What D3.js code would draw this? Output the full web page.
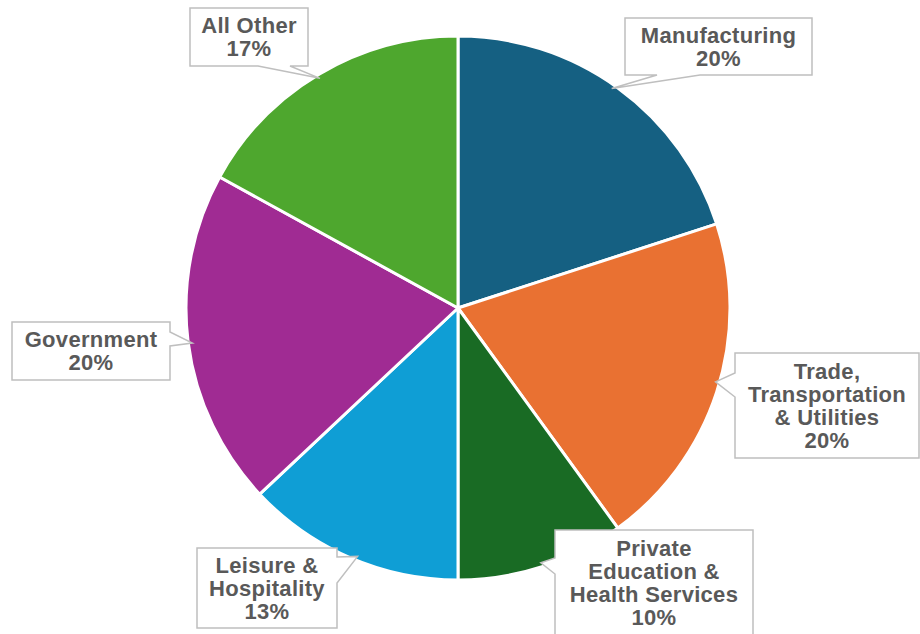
<!DOCTYPE html>
<html>
<head>
<meta charset="utf-8">
<script src="https://cdn.jsdelivr.net/npm/d3@7"></script>
<style>
  html, body { margin: 0; padding: 0; background: #ffffff; }
  svg { display: block; }
</style>
</head>
<body>
<svg id="chart" width="920" height="634"></svg>
<script>
// Employment share by industry
const categories = [
  "Manufacturing",
  "Trade, Transportation & Utilities",
  "Private Education & Health Services",
  "Leisure & Hospitality",
  "Government",
  "All Other"
];
const shares = [20, 20, 10, 13, 20, 17];
const labelLines = [
  ["Manufacturing"],
  ["Trade,", "Transportation", "& Utilities"],
  ["Private", "Education &", "Health Services"],
  ["Leisure &", "Hospitality"],
  ["Government"],
  ["All Other"]
];
const colors = ["#156082", "#E97132", "#196B24", "#0F9ED5", "#A02B93", "#4EA72E"];

// Callout layout: box extents, side the pointer leaves from, pointer base and target angle (deg)
const callouts = [
  { x0: 625, y0: 18,  x1: 812, y1: 75,  side: "bottom", b: [657, 700], tipDeg: 35 },
  { x0: 735, y0: 353, x1: 919, y1: 458, side: "left",   b: [373, 397], tipDeg: 106 },
  { x0: 555, y0: 530, x1: 753, y1: 640, side: "left",   b: [558, 574], tipDeg: 162 },
  { x0: 197, y0: 548, x1: 337, y1: 628, side: "right",  b: [557, 583], tipDeg: 202 },
  { x0: 12,  y0: 322, x1: 170, y1: 380, side: "right",  b: [332, 346], tipDeg: 262.5 },
  { x0: 190, y0: 8,   x1: 308, y1: 66,  side: "bottom", b: [258, 290], tipDeg: 329 }
];

const svg = d3.select("#chart");
const cx = 458, cy = 308, R = 272;

const pie = d3.pie().sort(null).value(d => d).startAngle(0).endAngle(2 * Math.PI);
const arc = d3.arc().innerRadius(0).outerRadius(R);
const arcs = pie(shares);

const g = svg.append("g").attr("transform", `translate(${cx},${cy})`);
g.selectAll("path.slice")
  .data(arcs)
  .join("path")
  .attr("class", "slice")
  .attr("d", arc)
  .attr("fill", (d, i) => colors[i])
  .attr("stroke", "#ffffff")
  .attr("stroke-width", 3)
  .attr("stroke-linejoin", "round");

// Callout bubbles
function tipPoint(deg) {
  const a = deg * Math.PI / 180;
  const r = R * 0.985;
  return [cx + r * Math.sin(a), cy - r * Math.cos(a)];
}

function bubblePath(c) {
  const [tx, ty] = tipPoint(c.tipDeg);
  const p = d3.path();
  const lo = Math.min(...c.b), hi = Math.max(...c.b);
  p.moveTo(c.x0, c.y0);
  p.lineTo(c.x1, c.y0);
  if (c.side === "right") {
    p.lineTo(c.x1, lo); p.lineTo(tx, ty); p.lineTo(c.x1, hi);
  }
  p.lineTo(c.x1, c.y1);
  if (c.side === "bottom") {
    p.lineTo(hi, c.y1); p.lineTo(tx, ty); p.lineTo(lo, c.y1);
  }
  p.lineTo(c.x0, c.y1);
  if (c.side === "left") {
    p.lineTo(c.x0, hi); p.lineTo(tx, ty); p.lineTo(c.x0, lo);
  }
  p.closePath();
  return p.toString();
}

const fontSize = 22, lineH = 23;
const labels = svg.append("g");
callouts.forEach((c, i) => {
  labels.append("path")
    .attr("d", bubblePath(c))
    .attr("fill", "#ffffff")
    .attr("stroke", "#BFBFBF")
    .attr("stroke-width", 1.5)
    .attr("stroke-linejoin", "miter");

  const lines = labelLines[i].concat([d3.format(".0f")(shares[i]) + "%"]);
  const midY = (c.y0 + (c.y1 > 634 ? 636 : c.y1)) / 2;
  const startY = midY - (lines.length - 1) * lineH / 2;
  const t = labels.append("text")
    .attr("text-anchor", "middle")
    .attr("font-family", "'Liberation Sans', Arial, Helvetica, sans-serif")
    .attr("font-weight", "bold")
    .attr("font-size", fontSize)
    .attr("letter-spacing", 0.3)
    .attr("fill", "#595959");
  lines.forEach((ln, j) => {
    t.append("tspan")
      .attr("x", (c.x0 + c.x1) / 2)
      .attr("y", startY + j * lineH)
      .attr("dy", "0.35em")
      .text(ln);
  });
});
</script>
</body>
</html>
